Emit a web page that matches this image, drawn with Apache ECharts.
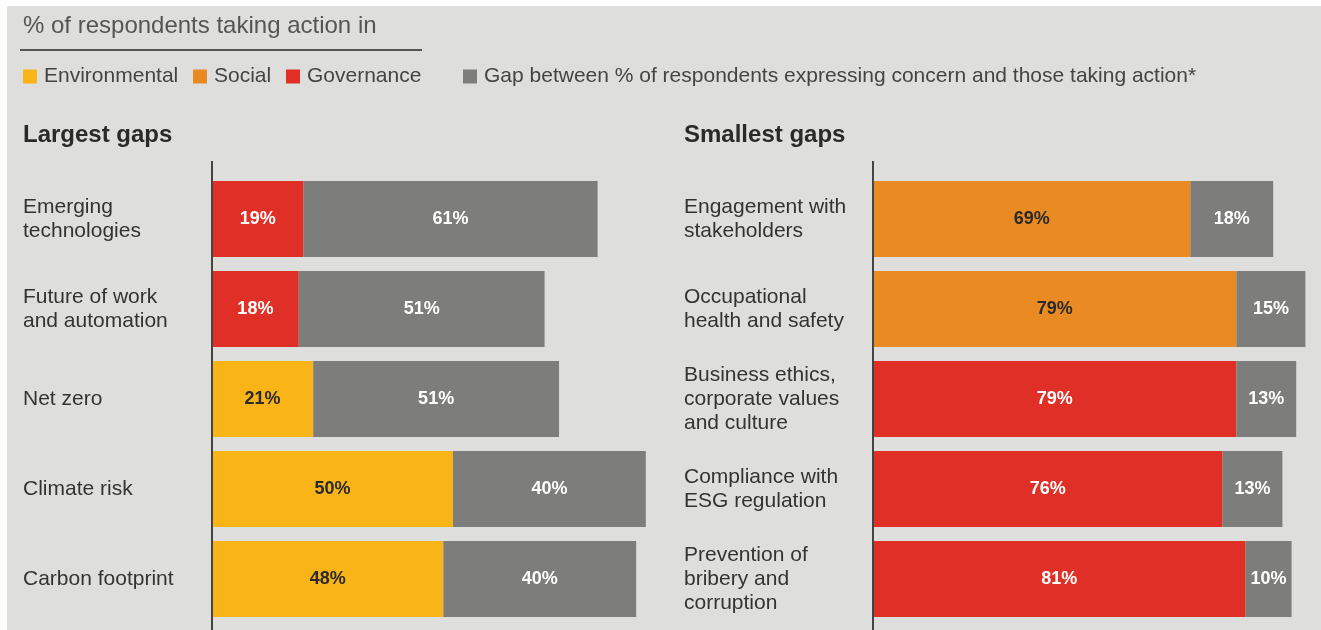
<!DOCTYPE html>
<html>
<head>
<meta charset="utf-8">
<script src="https://cdn.jsdelivr.net/npm/echarts@6/dist/echarts.min.js"></script>
<style>
html,body{margin:0;padding:0;background:#ffffff;}
#chart{width:1321px;height:630px;}
</style>
</head>
<body>
<div id="chart"></div>
<script>
// ---- data ----
var titleText = '% of respondents taking action in';
var legendNames = ['Environmental', 'Social', 'Governance', 'Gap between % of respondents expressing concern and those taking action*'];
var leftTitle = 'Largest gaps';
var rightTitle = 'Smallest gaps';

var leftCategories = ['Emerging\ntechnologies', 'Future of work\nand automation', 'Net zero', 'Climate risk', 'Carbon footprint'];
var leftTypes = ['Governance', 'Governance', 'Environmental', 'Environmental', 'Environmental'];
var leftAction = [19, 18, 21, 50, 48];
var leftGap = [61, 51, 51, 40, 40];

var rightCategories = ['Engagement with\nstakeholders', 'Occupational\nhealth and safety', 'Business ethics,\ncorporate values\nand culture', 'Compliance with\nESG regulation', 'Prevention of\nbribery and\ncorruption'];
var rightTypes = ['Social', 'Social', 'Governance', 'Governance', 'Governance'];
var rightAction = [69, 79, 79, 76, 81];
var rightGap = [18, 15, 13, 13, 10];

// ---- styles ----
var FONT = '"Liberation Sans", Arial, Helvetica, sans-serif';
var colors = { Environmental: '#f9b418', Social: '#e98b22', Governance: '#e02f26', Gap: '#7d7d7b' };
var labelColors = { Environmental: '#2a2a2a', Social: '#2a2a2a', Governance: '#ffffff', Gap: '#ffffff' };
var typeList = ['Environmental', 'Social', 'Governance'];

function buildSeries(idx, types, action, gap) {
  var out = [];
  typeList.forEach(function (t) {
    var data = action.map(function (v, i) { return types[i] === t ? v : '-'; });
    out.push({
      name: t, type: 'bar', stack: 's' + idx, xAxisIndex: idx, yAxisIndex: idx,
      barWidth: 76, data: data,
      itemStyle: { color: colors[t] },
      label: { show: true, position: 'inside', formatter: '{c}%', color: labelColors[t],
               fontFamily: FONT, fontSize: 18, fontWeight: 'bold' },
      emphasis: { disabled: true }
    });
  });
  out.push({
    name: legendNames[3], type: 'bar', stack: 's' + idx, xAxisIndex: idx, yAxisIndex: idx,
    barWidth: 76, data: gap,
    itemStyle: { color: colors.Gap },
    label: { show: true, position: 'inside', formatter: '{c}%', color: labelColors.Gap,
             fontFamily: FONT, fontSize: 18, fontWeight: 'bold' },
    emphasis: { disabled: true }
  });
  return out;
}

function legendAt(name, left) {
  return {
    data: [name], left: left, top: 66, padding: 0, icon: 'rect', itemWidth: 14, itemHeight: 14, itemGap: 7,
    textStyle: { fontFamily: FONT, fontSize: 21, color: '#444444', padding: [0, 0, 0, 2] },
    selectedMode: false
  };
}

var chart = echarts.init(document.getElementById('chart'), null, { renderer: 'canvas' });
var option = {
  animation: false,
  backgroundColor: '#dededc',
  textStyle: { fontFamily: FONT },
  legend: [
    legendAt(legendNames[0], 23),
    legendAt(legendNames[1], 193),
    legendAt(legendNames[2], 286),
    legendAt(legendNames[3], 463)
  ],
  grid: [
    { left: 212, top: 174, width: 482, height: 450, containLabel: false },
    { left: 873, top: 174, width: 437, height: 450, containLabel: false }
  ],
  xAxis: [
    { type: 'value', gridIndex: 0, min: 0, max: 100, show: false },
    { type: 'value', gridIndex: 1, min: 0, max: 95, show: false }
  ],
  yAxis: [
    { type: 'category', gridIndex: 0, data: leftCategories, inverse: true,
      axisLine: { show: false }, axisTick: { show: false },
      axisLabel: { align: 'left', margin: 189, fontFamily: FONT, fontSize: 21, lineHeight: 24, color: '#333333' } },
    { type: 'category', gridIndex: 1, data: rightCategories, inverse: true,
      axisLine: { show: false }, axisTick: { show: false },
      axisLabel: { align: 'left', margin: 189, fontFamily: FONT, fontSize: 21, lineHeight: 24, color: '#333333' } }
  ],
  series: buildSeries(0, leftTypes, leftAction, leftGap).concat(buildSeries(1, rightTypes, rightAction, rightGap)),
  graphic: [
    { type: 'rect', left: 0, top: 0, shape: { width: 1321, height: 6 }, style: { fill: '#ffffff' }, silent: true },
    { type: 'rect', left: 0, top: 0, shape: { width: 7, height: 630 }, style: { fill: '#ffffff' }, silent: true },
    { type: 'text', left: 23, top: 14, style: { text: titleText, fontFamily: FONT, fontSize: 24, fill: '#555555' } },
    { type: 'line', shape: { x1: 20, y1: 50, x2: 422, y2: 50 }, style: { stroke: '#555555', lineWidth: 2 } },
    { type: 'text', left: 23, top: 123, style: { text: leftTitle, fontFamily: FONT, fontSize: 24, fontWeight: 'bold', fill: '#2a2a2a' } },
    { type: 'text', left: 684, top: 123, style: { text: rightTitle, fontFamily: FONT, fontSize: 24, fontWeight: 'bold', fill: '#2a2a2a' } },
    { type: 'line', shape: { x1: 212, y1: 161, x2: 212, y2: 630 }, style: { stroke: '#444444', lineWidth: 2 }, z: 10 },
    { type: 'line', shape: { x1: 873, y1: 161, x2: 873, y2: 630 }, style: { stroke: '#444444', lineWidth: 2 }, z: 10 }
  ]
};
chart.setOption(option);
</script>
</body>
</html>
